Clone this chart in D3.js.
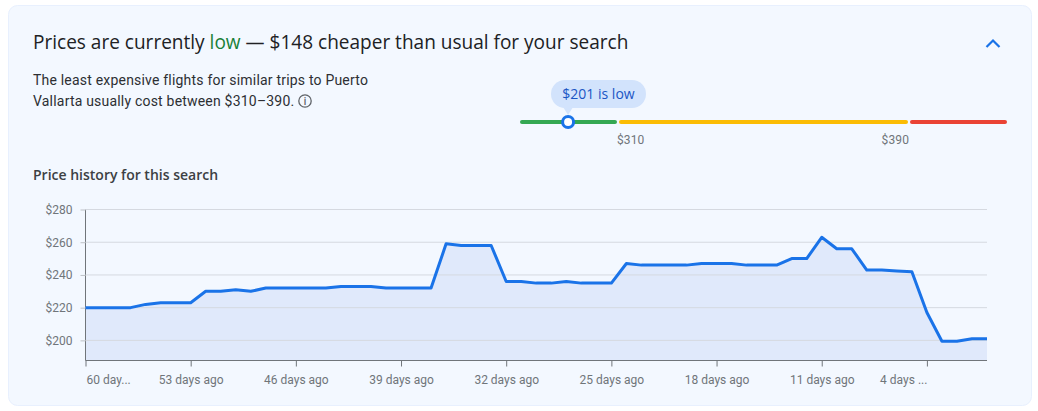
<!DOCTYPE html>
<html><head><meta charset="utf-8">
<script src="https://cdn.jsdelivr.net/npm/d3@7/dist/d3.min.js"></script>
<style>
html,body{margin:0;padding:0;background:#fff;overflow:hidden}
svg{display:block}
text{font-family:Roboto,sans-serif}
.gs{font-family:"Open Sans",sans-serif}
</style></head><body>
<script>
const daysAgo = [60,59,58,57,56,55,54,53,52,51,50,49,48,47,46,45,44,43,42,41,40,39,38,37,36,35,34,33,32,31,30,29,28,27,26,25,24,23,22,21,20,19,18,17,16,15,14,13,12,11,10,9,8,7,6,5,4,3,2,1,0];
const prices = [220,220,220,220,222,223,223,223,230,230,231,230,232,232,232,232,232,233,233,233,232,232,232,232,259,258,258,258,236,236,235,235,236,235,235,235,247,246,246,246,246,247,247,247,246,246,246,250,250,263,256,256,243,243,242.4,242,217,199.5,199.5,201,201];
const yTicks = [200,220,240,260,280];
const xTicks = [60,53,46,39,32,25,18,11,4];
const xTickLabels = ["60 day...","53 days ago","46 days ago","39 days ago","32 days ago","25 days ago","18 days ago","11 days ago","4 days ..."];
const currentPrice = 201;
const bandStops = [96,310,390,604];
const bandColors = ["#34a853","#fbbc04","#ea4335"];
const bandLabels = [310,390];

const W=1038,H=411;
const svg=d3.select("body").append("svg").attr("width",W).attr("height",H);
svg.append("rect").attr("x",8.5).attr("y",5.5).attr("width",1023).attr("height",400).attr("rx",9)
  .attr("fill","#f3f8ff").attr("stroke","#e8f0fe");

// Header
const title=svg.append("text").attr("class","gs").attr("x",33).attr("y",49).attr("font-size",19.05).attr("fill","#202124");
title.append("tspan").text("Prices are currently ");
title.append("tspan").attr("fill","#188038").text("low");
title.append("tspan").text(" — $148 cheaper than usual for your search");
svg.append("path").attr("d",d3.line()([[986.5,47],[993,40.5],[999.5,47]])).attr("fill","none").attr("stroke","#1a73e8").attr("stroke-width",2.2);

svg.append("text").attr("x",33).attr("y",85).attr("font-size",14).attr("letter-spacing",0.2).attr("fill","#2d2f33").text("The least expensive flights for similar trips to Puerto");
svg.append("text").attr("x",33).attr("y",106).attr("font-size",14).attr("letter-spacing",0.2).attr("fill","#2d2f33").text("Vallarta usually cost between $310–390.");
svg.append("circle").attr("cx",305).attr("cy",101).attr("r",6.2).attr("fill","none").attr("stroke","#5f6368").attr("stroke-width",1.3);
svg.append("text").attr("x",305).attr("y",104.8).attr("text-anchor","middle").attr("font-size",10).attr("font-weight",500).attr("fill","#5f6368").text("i");

// Price band slider
const sx=d3.scaleLinear().domain(bandStops).range([520,618,909,1007]);
const bandY=122;
d3.pairs(bandStops).forEach(([a,b],i)=>{
  const x0=sx(a)+(i?1:0), x1=sx(b)-(i<2?1:0);
  svg.append("rect").attr("x",x0).attr("width",x1-x0).attr("y",bandY-2).attr("height",4).attr("rx",2)
    .attr("fill",bandColors[i]);
});
bandLabels.forEach(v=>{
  svg.append("text").attr("x",v===310?sx(v)-1:sx(v)).attr("y",144).attr("text-anchor",v===310?"start":"end").attr("font-size",12).attr("letter-spacing",0.1).attr("fill","#70757a").text("$"+v);
});
svg.append("rect").attr("x",551).attr("y",80).attr("width",95).attr("height",28).attr("rx",14).attr("fill","#d2e3fc");
svg.append("path").attr("d",d3.line()([[sx(currentPrice)-5,107],[sx(currentPrice),115],[sx(currentPrice)+5,107]])).attr("fill","#d2e3fc");
svg.append("text").attr("class","gs").attr("x",598.5).attr("y",99).attr("text-anchor","middle").attr("font-size",14).attr("fill","#1a56c4").text("$"+currentPrice+" is low");
svg.append("circle").attr("cx",sx(currentPrice)).attr("cy",bandY).attr("r",5.5).attr("fill","#fff").attr("stroke","#1a73e8").attr("stroke-width",3);

svg.append("text").attr("class","gs").attr("x",33).attr("y",180).attr("font-size",14).attr("font-weight",600).attr("fill","#3c4043").text("Price history for this search");

// Chart
const x=d3.scaleLinear().domain([60,0]).range([85.5,987]);
const y=d3.scaleLinear().domain([187.7,280]).range([360.5,209.5]);

const pts=daysAgo.map((d,i)=>[d,prices[i]]);
svg.append("path").attr("d",d3.area().x(d=>x(d[0])).y0(y(187.7)).y1(d=>y(d[1]))(pts))
  .attr("fill","#e0e9fb");

const yAxis=svg.append("g").attr("transform","translate(85.5,0)")
  .call(d3.axisLeft(y).tickValues(yTicks).tickSize(5).tickPadding(8).tickFormat(d=>"$"+d));
yAxis.select(".domain").attr("d","M0,209.5V360.5").attr("stroke","#70757a");
yAxis.selectAll(".tick line").attr("stroke","#bdc1c6");
yAxis.selectAll("text").attr("font-family","Roboto,sans-serif").attr("font-size",12).attr("fill","#70757a");

svg.append("g").selectAll("line").data(yTicks).join("line")
  .attr("x1",x(60)).attr("x2",x(0)).attr("y1",d=>y(d)).attr("y2",d=>y(d))
  .attr("stroke","#d5d9e0").attr("stroke-width",1);

const xAxis=svg.append("g").attr("transform","translate(0,360.5)")
  .call(d3.axisBottom(x).tickValues(xTicks).tickSize(6).tickPadding(9).tickFormat((d,i)=>xTickLabels[i]));
xAxis.select(".domain").attr("d",`M${x(60)},0H${x(0)}`).attr("stroke","#70757a");
xAxis.selectAll(".tick line").attr("stroke","#70757a");
xAxis.selectAll("text").attr("font-family","Roboto,sans-serif").attr("font-size",12).attr("fill","#70757a")
  .attr("text-anchor",(d,i)=>i===0?"start":i===xTicks.length-1?"end":"middle")
  .attr("dx",(d,i)=>i===0?0.5:0);

svg.append("path").attr("d",d3.line().x(d=>x(d[0])).y(d=>y(d[1]))(pts))
  .attr("fill","none").attr("stroke","#1a73e8").attr("stroke-width",3).attr("stroke-linejoin","round");
</script>
</body></html>
